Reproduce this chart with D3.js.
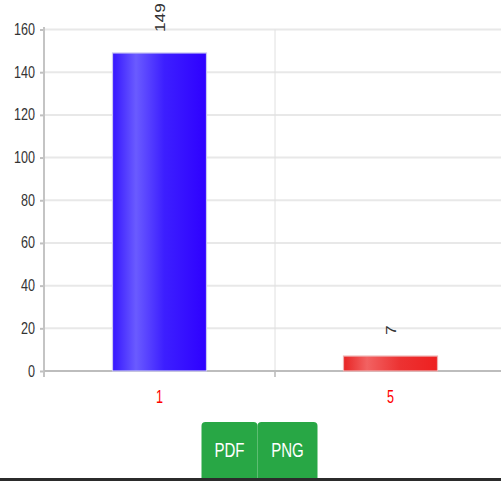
<!DOCTYPE html>
<html>
<head>
<meta charset="utf-8">
<script src="https://cdn.jsdelivr.net/npm/d3@7/dist/d3.min.js"></script>
<style>
  html, body { margin: 0; padding: 0; background: #fff; overflow: hidden; }
  svg { display: block; }
</style>
</head>
<body>
<svg id="chart" width="501" height="481"></svg>
<script>
const categories = ["1", "5"];
const values = [149, 7];
const yTicks = [0, 20, 40, 60, 80, 100, 120, 140, 160];
const buttonLabels = ["PDF", "PNG"];

const svg = d3.select("#chart");
const font = "'Liberation Sans', Arial, sans-serif";

const x = d3.scaleBand().domain(categories).range([44, 506]).paddingInner(0).paddingOuter(0);
const y = d3.scaleLinear().domain([0, 160]).range([371, 29.5]);

// gradients
const defs = svg.append("defs");
const grads = [
  { id: "gBlue", stops: [["0%", "#3515ff"], ["25%", "#6a5bff"], ["55%", "#3d1fff"], ["100%", "#2e00ff"]] },
  { id: "gRed", stops: [["0%", "#e82424"], ["25%", "#f26262"], ["60%", "#ec3232"], ["100%", "#ee2020"]] }
];
grads.forEach(g => {
  const lg = defs.append("linearGradient").attr("id", g.id).attr("x1", "0%").attr("x2", "100%").attr("y1", "0%").attr("y2", "0%");
  g.stops.forEach(s => lg.append("stop").attr("offset", s[0]).attr("stop-color", s[1]));
});
const fills = ["url(#gBlue)", "url(#gRed)"];
const strokes = ["#c9c6f2", "#efb0b0"];

// horizontal grid
svg.append("g").selectAll("line").data(yTicks.filter(d => d > 0)).join("line")
  .attr("x1", 44).attr("x2", 501)
  .attr("y1", d => y(d)).attr("y2", d => y(d))
  .attr("stroke", "#e8e8e8").attr("stroke-width", 2);

// vertical grid between categories
svg.append("g").selectAll("line").data(categories.slice(1)).join("line")
  .attr("x1", d => x(d)).attr("x2", d => x(d))
  .attr("y1", y(160)).attr("y2", 377)
  .attr("stroke", "#e0e0e0").attr("stroke-width", 1);

// y axis
const yAxis = d3.axisLeft(y).tickValues(yTicks).tickSize(4).tickPadding(4).tickSizeOuter(0);
const ya = svg.append("g").attr("transform", "translate(44,0)").call(yAxis);
ya.select(".domain").remove();
ya.selectAll(".tick line").attr("stroke", "#c0c0c0").attr("stroke-width", 2);
ya.selectAll(".tick text")
  .attr("x", null).attr("dy", null)
  .attr("transform", "translate(-9,5) scale(0.9,1.18)")
  .attr("font-family", font).attr("font-size", 14).attr("fill", "#333");
svg.append("line").attr("x1", 44).attr("x2", 44).attr("y1", 27).attr("y2", 377)
  .attr("stroke", "#c4c4c4").attr("stroke-width", 2);

// x axis
svg.append("line").attr("x1", 44).attr("x2", 501).attr("y1", y(0)).attr("y2", y(0))
  .attr("stroke", "#bdbdbd").attr("stroke-width", 2);
svg.append("g").selectAll("line").data(categories.slice(1)).join("line")
  .attr("x1", d => x(d)).attr("x2", d => x(d)).attr("y1", y(0)).attr("y2", 377)
  .attr("stroke", "#bdbdbd").attr("stroke-width", 1.5);
svg.append("g").selectAll("text").data(categories).join("text")
  .attr("transform", d => `translate(${x(d) + x.bandwidth() / 2},402.5) scale(0.9,1.25)`)
  .attr("text-anchor", "middle").attr("font-family", font).attr("font-size", 14)
  .attr("fill", "#ff0000").text(d => d);

// bars
const barW = 94;
svg.append("g").selectAll("rect").data(values).join("rect")
  .attr("x", (d, i) => x(categories[i]) + (x.bandwidth() - barW) / 2)
  .attr("y", d => y(d))
  .attr("width", barW)
  .attr("height", d => y(0) - y(d))
  .attr("fill", (d, i) => fills[i])
  .attr("stroke", (d, i) => strokes[i]).attr("stroke-width", 1.2);

// data labels
svg.append("g").selectAll("text").data(values).join("text")
  .attr("transform", (d, i) => `translate(${x(categories[i]) + x.bandwidth() / 2},${y(d) - 21}) rotate(-90) scale(1.15,1)`)
  .attr("dy", "0.35em")
  .attr("text-anchor", "start")
  .attr("font-family", font).attr("font-size", 15)
  .attr("fill", "#333").text(d => d);

// buttons
const btnX = [201.5, 257.5], btnW = [56, 60];
const bg = svg.append("g");
buttonLabels.forEach((lab, i) => {
  bg.append("rect").attr("x", btnX[i]).attr("y", 422).attr("width", btnW[i]).attr("height", 62)
    .attr("rx", 4).attr("fill", "#28a745");
  bg.append("text").attr("transform", `translate(${btnX[i] + btnW[i] / 2},456.7) scale(0.94,1.22)`)
    .attr("text-anchor", "middle").attr("font-family", font).attr("font-size", 16)
    .attr("fill", "#fff").text(lab);
});

// bottom dark bar
svg.append("rect").attr("x", 0).attr("y", 478).attr("width", 501).attr("height", 3).attr("fill", "#2b2b2b");
</script>
</body>
</html>
